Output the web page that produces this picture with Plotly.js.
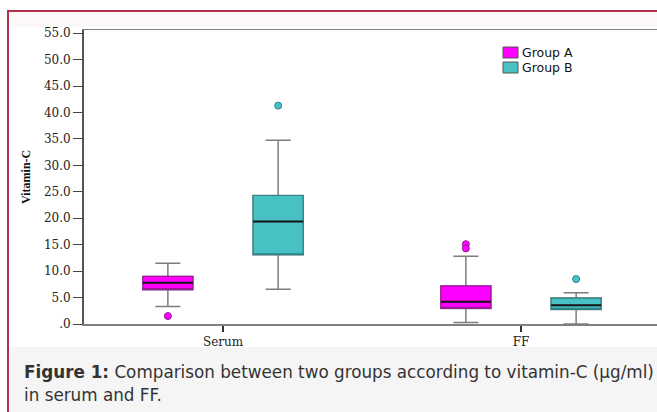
<!DOCTYPE html>
<html>
<head>
<meta charset="utf-8">
<script src="https://cdn.plot.ly/plotly-3.0.1.min.js"></script>
<style>
html,body{margin:0;padding:0;background:#fff;overflow:hidden;}
#wrap{width:657px;height:412px;overflow:hidden;position:relative;}
#chart{width:680px;height:412px;}
</style>
</head>
<body>
<div id="wrap"><div id="chart"></div></div>
<script>
// ---- data ----
const categories = ['Serum', 'FF'];
const groups = ['Group A', 'Group B'];

const groupA_lowerfence = [3.3, 0.3];
const groupA_q1 = [6.5, 2.95];
const groupA_median = [7.8, 4.2];
const groupA_q3 = [9.0, 7.2];
const groupA_upperfence = [11.5, 12.8];
const groupA_outlierCat = ['Serum', 'FF', 'FF'];
const groupA_outlierVal = [1.5, 15.1, 14.3];

const groupB_lowerfence = [6.55, 0.0];
const groupB_q1 = [13.1, 2.75];
const groupB_median = [19.4, 3.55];
const groupB_q3 = [24.3, 4.9];
const groupB_upperfence = [34.75, 5.9];
const groupB_outlierCat = ['Serum', 'FF'];
const groupB_outlierVal = [41.3, 8.5];

const yTickVals = [0, 5, 10, 15, 20, 25, 30, 35, 40, 45, 50, 55];
const yTickText = ['.0', '5.0', '10.0', '15.0', '20.0', '25.0', '30.0', '35.0', '40.0', '45.0', '50.0', '55.0'];

// ---- style ----
const fills = ['#ff00ff', '#48c1c4'];
const edges = ['#9a1a9a', '#2c8486'];
const groupOffset = [-0.185, 0.185];
const boxW = 0.168;

const stats = [
  {lf: groupA_lowerfence, q1: groupA_q1, med: groupA_median, q3: groupA_q3, uf: groupA_upperfence, oc: groupA_outlierCat, ov: groupA_outlierVal},
  {lf: groupB_lowerfence, q1: groupB_q1, med: groupB_median, q3: groupB_q3, uf: groupB_upperfence, oc: groupB_outlierCat, ov: groupB_outlierVal}
];

const traces = [];
stats.forEach((s, g) => {
  const xs = categories.map((c, i) => i + groupOffset[g]);
  // whiskers (gray)
  traces.push({
    type: 'box', x: xs, q1: s.q1, median: s.q1, q3: s.q3,
    lowerfence: s.lf, upperfence: s.uf, width: boxW, whiskerwidth: 0.5,
    fillcolor: 'rgba(0,0,0,0)', line: {color: '#7d7d7d', width: 1.5},
    showlegend: false, hoverinfo: 'skip'
  });
  // box body
  traces.push({
    type: 'box', name: groups[g], x: xs, q1: s.q1, median: s.q1, q3: s.q3,
    lowerfence: s.q1, upperfence: s.q3, width: boxW, whiskerwidth: 0,
    fillcolor: fills[g], line: {color: edges[g], width: 1.2},
    showlegend: false, hoverinfo: 'skip'
  });
  // median
  traces.push({
    type: 'box', x: xs, q1: s.med, median: s.med, q3: s.med,
    lowerfence: s.med, upperfence: s.med, width: boxW, whiskerwidth: 0,
    fillcolor: 'rgba(0,0,0,0)', line: {color: '#151515', width: 2},
    showlegend: false, hoverinfo: 'skip'
  });
  // outliers
  traces.push({
    type: 'scatter', mode: 'markers',
    x: s.oc.map(c => categories.indexOf(c) + groupOffset[g]), y: s.ov,
    marker: {symbol: 'circle', size: 7, color: fills[g], line: {color: edges[g], width: 1}},
    showlegend: false, hoverinfo: 'skip'
  });
});

// paper coordinate helpers (plot area: x 84..680, y 30..324 px)
const FW = 680;
const L = 84, T = 30, W = FW - L, H = 294;
const px = v => (v - L) / W;
const py = v => (T + H - v) / H;

const shapes = [
  {type: 'rect', xref: 'paper', yref: 'paper', x0: px(9), x1: px(FW), y0: py(12), y1: py(27),
   fillcolor: '#fcf8f8', line: {width: 0}, layer: 'below'},
  {type: 'rect', xref: 'paper', yref: 'paper', x0: px(9), x1: px(FW), y0: py(347), y1: py(412),
   fillcolor: '#f5f5f5', line: {width: 0}, layer: 'below'},
  {type: 'line', xref: 'paper', yref: 'paper', x0: px(8), x1: px(FW), y0: py(11), y1: py(11),
   line: {color: '#b3304f', width: 2}},
  {type: 'line', xref: 'paper', yref: 'paper', x0: px(8), x1: px(8), y0: py(10), y1: py(412),
   line: {color: '#b3304f', width: 2}}
];

const annotations = [
  {text: '<b>Vitamin-C</b>', xref: 'paper', yref: 'paper', x: px(26), y: py(177),
   xanchor: 'center', yanchor: 'middle', textangle: -90, showarrow: false,
   font: {family: 'Liberation Serif', size: 12, color: '#111'}},
  {text: '<b>Figure 1:</b> Comparison between two groups according to vitamin-C (µg/ml)',
   xref: 'paper', yref: 'paper', x: px(22), y: py(372), xanchor: 'left', yanchor: 'middle',
   showarrow: false, align: 'left',
   font: {family: 'DejaVu Sans', size: 16.8, color: '#333'}},
  {text: 'in serum and FF.',
   xref: 'paper', yref: 'paper', x: px(22), y: py(395), xanchor: 'left', yanchor: 'middle',
   showarrow: false, align: 'left',
   font: {family: 'DejaVu Sans', size: 16.8, color: '#333'}}
];

// legend (swatch + label per group)
const legTop = [47, 62];
groups.forEach((name, g) => {
  shapes.push({type: 'rect', xref: 'paper', yref: 'paper',
    x0: px(503), x1: px(518), y0: py(legTop[g]), y1: py(legTop[g] + 11),
    fillcolor: fills[g], line: {color: '#555', width: 1}});
  annotations.push({text: name, xref: 'paper', yref: 'paper', borderpad: 0,
    x: px(521), y: py(legTop[g] + 5.5), xanchor: 'left', yanchor: 'middle', showarrow: false,
    font: {family: 'DejaVu Sans', size: 12.5, color: '#111'}});
});

const layout = {
  width: FW, height: 412,
  margin: {l: L, r: 0, t: T, b: 412 - T - H, pad: 0},
  paper_bgcolor: '#ffffff', plot_bgcolor: '#ffffff',
  boxmode: 'overlay',
  showlegend: false,
  xaxis: {
    type: 'linear', range: [(L - 223) / 298, (FW - 223) / 298],
    tickvals: categories.map((c, i) => i), ticktext: categories,
    ticks: 'outside', ticklen: 6, tickwidth: 2, tickcolor: '#333',
    tickfont: {family: 'DejaVu Serif', size: 12, color: '#222'},
    showgrid: false, zeroline: false,
    showline: true, linecolor: '#808080', linewidth: 1.5, mirror: true,
    fixedrange: true
  },
  yaxis: {
    range: [0, 55.6],
    tickvals: yTickVals, ticktext: yTickText,
    ticks: 'outside', ticklen: 9, tickwidth: 1, tickcolor: '#444',
    tickfont: {family: 'DejaVu Serif', size: 12, color: '#222'},
    showgrid: false, zeroline: false,
    showline: true, linecolor: '#555', linewidth: 2,
    fixedrange: true
  },
  shapes: shapes,
  annotations: annotations
};

Plotly.newPlot('chart', traces, layout, {staticPlot: true, displayModeBar: false});
</script>
</body>
</html>
